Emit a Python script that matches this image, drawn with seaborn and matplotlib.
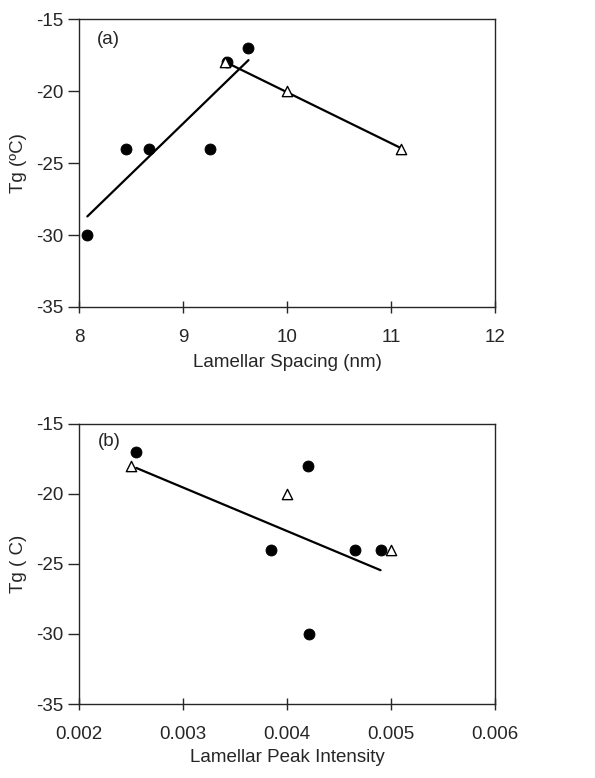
import pandas as pd
import seaborn as sns
import matplotlib.pyplot as plt

# Panel (a): Tg vs lamellar spacing
spacing_circ = [8.08, 8.45, 8.67, 9.26, 9.42, 9.63]
tg_circ_a = [-30, -24, -24, -24, -18, -17]
spacing_tri = [9.40, 10.0, 11.1]
tg_tri_a = [-18, -20, -24]

# Panel (b): Tg vs lamellar peak intensity
peak_circ = [0.00255, 0.00385, 0.00420, 0.00421, 0.00465, 0.00490]
tg_circ_b = [-17, -24, -18, -30, -24, -24]
peak_tri = [0.0025, 0.0040, 0.0050]
tg_tri_b = [-18, -20, -24]

a_circ = pd.DataFrame({"x": spacing_circ, "y": tg_circ_a})
a_tri = pd.DataFrame({"x": spacing_tri, "y": tg_tri_a})
b_circ = pd.DataFrame({"x": peak_circ, "y": tg_circ_b})
b_tri = pd.DataFrame({"x": peak_tri, "y": tg_tri_b})

sns.set_style("ticks")
plt.rcParams["font.family"] = ["Liberation Sans", "DejaVu Sans"]
plt.rcParams["font.size"] = 13.5
plt.rcParams["axes.unicode_minus"] = False

fig = plt.figure(figsize=(5.95, 7.78), dpi=100)
ax1 = fig.add_axes([0.1328, 0.6054, 0.699, 0.370])
ax2 = fig.add_axes([0.1328, 0.0951, 0.699, 0.360])

line_kw = dict(color="black", lw=1.6)


def panel(ax, circ, tri, fit_tri):
    sns.regplot(data=circ, x="x", y="y", ax=ax, scatter=False, ci=None, line_kws=line_kw)
    if fit_tri:
        sns.regplot(data=tri, x="x", y="y", ax=ax, scatter=False, ci=None, line_kws=line_kw)
    sns.scatterplot(data=circ, x="x", y="y", ax=ax, marker="o", s=62,
                    color="black", edgecolor="black", zorder=3)
    sns.scatterplot(data=tri, x="x", y="y", ax=ax, marker="^", s=55,
                    facecolor="white", edgecolor="black", linewidth=1.0, zorder=3)
    ax.set_ylim(-35, -15)
    ax.set_yticks([-35, -30, -25, -20, -15])
    for s in ax.spines.values():
        s.set_linewidth(1.0)
    ax.tick_params(axis="x", direction="inout", length=9, width=1.0, pad=11)
    ax.tick_params(axis="y", direction="out", length=8, width=1.0)


panel(ax1, a_circ, a_tri, True)
ax1.set_xlim(8, 12)
ax1.set_xticks([8, 9, 10, 11, 12])
ax1.set_xlabel("Lamellar Spacing (nm)", labelpad=6)
ax1.set_ylabel("Tg (ºC)", labelpad=6)
ax1.text(8.17, -16.75, "(a)")

panel(ax2, b_circ, b_tri, False)
ax2.set_xlim(0.002, 0.006)
ax2.set_xticks([0.002, 0.003, 0.004, 0.005, 0.006])
ax2.set_xticklabels(["0.002", "0.003", "0.004", "0.005", "0.006"])
ax2.set_xlabel("Lamellar Peak Intensity", labelpad=5)
ax2.set_ylabel("Tg ( C)", labelpad=6)
ax2.text(0.00218, -16.6, "(b)")

plt.savefig("out.png", dpi=100)
plt.close()
